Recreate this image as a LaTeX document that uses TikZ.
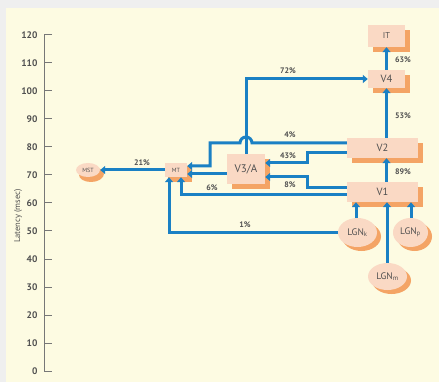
\documentclass[tikz,border=0pt]{standalone}
\usepackage{fontspec}
\setmainfont{PT Sans}
\usetikzlibrary{arrows.meta,shadows,shapes.geometric}
\definecolor{bgcream}{HTML}{FDFBE2}
\definecolor{bggray}{HTML}{EFEFEF}
\definecolor{linkblue}{HTML}{1A80C4}
\definecolor{boxfill}{HTML}{FAD9C4}
\definecolor{shadoworange}{HTML}{F4A465}
\definecolor{txt}{HTML}{505050}
\definecolor{axisgray}{HTML}{777777}
\tikzset{
  area/.style={draw=none,fill=boxfill,inner sep=0pt,text=txt,
    drop shadow={shadow xshift=5pt,shadow yshift=-5pt,fill=shadoworange,opacity=1}},
  ell/.style={ellipse,draw=none,fill=boxfill,inner sep=0pt,text=txt,
    drop shadow={shadow xshift=4pt,shadow yshift=-4pt,fill=shadoworange,opacity=1}},
  arr/.style={draw=linkblue,line width=3pt,-{Triangle[length=5pt,width=8pt]}},
  pct/.style={text=txt,font=\fontsize{8}{9}\selectfont\bfseries},
  tick/.style={draw=axisgray,line width=1pt},
  ticklbl/.style={text=txt,anchor=east,font=\fontsize{9.5}{10}\selectfont\bfseries}
}
\begin{document}
\begin{tikzpicture}[x=1pt,y=-1pt]
\useasboundingbox (0,0) rectangle (439,382);
\fill[bggray] (0,0) rectangle (439,382);
\fill[bgcream] (6,8) rectangle (439,382);
% axis
\draw[tick] (52,35) -- (44,35) -- (44,371) -- (52,371);
\foreach \v in {0,10,...,120}{
  \draw[tick] (44,{371-2.8*\v}) -- (52,{371-2.8*\v});
  \node[ticklbl] (t\v) at (41,{371-2.8*\v}) {\v};
}
\node[text=txt,rotate=90,font=\fontsize{8.5}{9}\selectfont] (ylab) at (18,216) {Latency (msec)};
% nodes
\node[area,minimum width=37pt,minimum height=22pt,font=\fontsize{8.5}{9}\selectfont] (IT) at (386.5,36) {IT};
\node[area,minimum width=37pt,minimum height=18pt,font=\fontsize{10.5}{11}\selectfont] (V4) at (386.5,79) {V4};
\node[area,minimum width=71pt,minimum height=20pt,font=\fontsize{10.5}{11}\selectfont] (V2) at (382.5,148) {V2};
\node[area,minimum width=71pt,minimum height=20pt,font=\fontsize{10.5}{11}\selectfont] (V1) at (382.5,192) {V1};
\node[area,minimum width=38pt,minimum height=30pt,font=\fontsize{11}{12}\selectfont] (V3A) at (246,169) {V3/A};
\node[area,minimum width=22pt,minimum height=14pt,font=\fontsize{6}{7}\selectfont,
  drop shadow={shadow xshift=3pt,shadow yshift=-3pt,fill=shadoworange,opacity=1}] (MT) at (176,170) {MT};
\node[ell,minimum width=24pt,minimum height=14pt,font=\fontsize{6}{7}\selectfont,
  drop shadow={shadow xshift=3pt,shadow yshift=-5pt,fill=shadoworange,opacity=1}] (MST) at (88,170) {MST};
\node[ell,minimum width=39pt,minimum height=29pt,font=\fontsize{9.5}{10}\selectfont] (LGNk) at (357.5,232.5) {LGN\textsubscript{k}};
\node[ell,minimum width=35pt,minimum height=29pt,font=\fontsize{9.5}{10}\selectfont] (LGNp) at (410.5,232.5) {LGN\textsubscript{p}};
\node[ell,minimum width=39pt,minimum height=27pt,font=\fontsize{9.5}{10}\selectfont] (LGNm) at (387.5,276.5) {LGN\textsubscript{m}};
% connectors
\draw[arr] (V4.north) -- (IT.south);
\draw[arr] (V4.south |- V2.north) -- (V4.south);
\draw[arr] (V4.south |- V1.north) -- (V4.south |- V2.south);
\draw[arr] (V3A.north) |- (V4.west);
\draw[arr] ([yshift=5pt]V2.west) -- (252,143) arc[start angle=0,end angle=180,radius=6pt] -- (210,143) |- ([yshift=4pt]MT.east);
\draw[arr] ([yshift=-5pt]V2.west) -- (307,153) |- ([yshift=6pt]V3A.east);
\draw[arr] ([yshift=4pt]V1.west) -- (307,188) |- ([yshift=-8pt]V3A.east);
\draw[arr] ([yshift=-3pt]V1.west) -| ([xshift=5pt]MT.south);
\draw[arr] (V3A.west |- 0,174) -- ([yshift=-4pt]MT.east);
\draw[arr] (LGNk.west) -| ([xshift=-7pt]MT.south);
\draw[arr] (MT.west) -- (MST.east);
\draw[arr] (LGNk.north -| 356,0) -- (V1.south -| 356,0);
\draw[arr] (LGNp.north -| 411,0) -- (V1.south -| 411,0);
\draw[arr] (LGNm.north -| 387,0) -- (V1.south -| 387,0);
% labels
\node[pct] (l63) at (403,60) {63\%};
\node[pct] (l53) at (403,116) {53\%};
\node[pct] (l89) at (403,172) {89\%};
\node[pct] (l72) at (288,71) {72\%};
\node[pct] (l4) at (290,135) {4\%};
\node[pct] (l43) at (288,156) {43\%};
\node[pct] (l8) at (290,185) {8\%};
\node[pct] (l6) at (212,188) {6\%};
\node[pct] (l1) at (245,225) {1\%};
\node[pct] (l21) at (142,163) {21\%};
\end{tikzpicture}
\end{document}
